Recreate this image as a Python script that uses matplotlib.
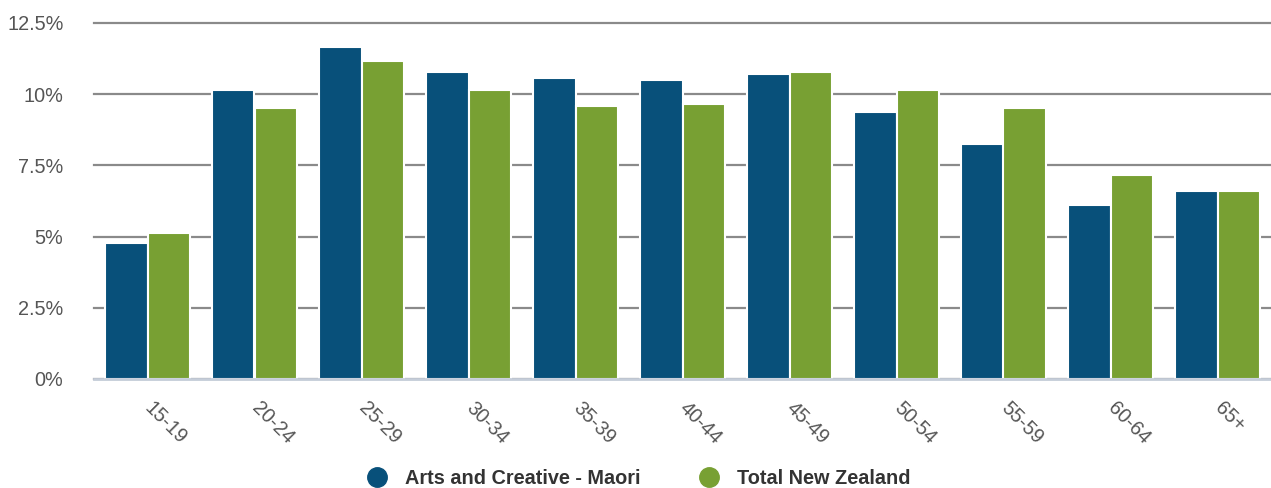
import numpy as np
import matplotlib.pyplot as plt
import matplotlib.transforms as mtrans
from matplotlib.lines import Line2D

plt.rcParams['font.family'] = ['Liberation Sans', 'DejaVu Sans']

age_groups = ["15-19", "20-24", "25-29", "30-34", "35-39", "40-44",
              "45-49", "50-54", "55-59", "60-64", "65+"]
arts_maori = [4.78, 10.15, 11.66, 10.78, 10.57, 10.50, 10.71, 9.38, 8.25, 6.11, 6.60]
total_nz = [5.13, 9.52, 11.17, 10.15, 9.59, 9.66, 10.78, 10.15, 9.52, 7.16, 6.60]
series_names = ["Arts and Creative - Maori", "Total New Zealand"]
y_ticks = [0, 2.5, 5, 7.5, 10, 12.5]
y_labels = ["0%", "2.5%", "5%", "7.5%", "10%", "12.5%"]

BLUE = "#08507a"
GREEN = "#78a033"

fig = plt.figure(figsize=(12.71, 4.88), dpi=100)
ax = fig.add_axes([94/1271, 1-379/488, 1-94/1271, (379-23)/488])

x = np.arange(len(age_groups))
w = 0.4
ax.bar(x - w/2, arts_maori, w, color=BLUE, edgecolor="white", linewidth=1.5, zorder=3)
ax.bar(x + w/2, total_nz, w, color=GREEN, edgecolor="white", linewidth=1.5, zorder=3)

ax.set_xlim(-0.5, len(age_groups) - 0.5)
ax.set_ylim(0, 12.5)
ax.set_yticks(y_ticks)
ax.set_yticklabels(y_labels, fontsize=14.3, color="#555555")
ax.yaxis.grid(True, color="#8a8a8a", linewidth=1.6, zorder=0)
for gl in ax.get_ygridlines():
    gl.set_clip_on(False)
ax.set_axisbelow(True)
ax.tick_params(axis="y", length=0, pad=22)

ax.set_xticks(x)
ax.set_xticklabels(age_groups, fontsize=14.3, color="#555555",
                   rotation=-45, ha="left", va="top", rotation_mode="anchor")
ax.tick_params(axis="x", length=0, pad=14)
shift = mtrans.ScaledTranslation(7/100, 0, fig.dpi_scale_trans)
for lbl in ax.get_xticklabels():
    lbl.set_transform(lbl.get_transform() + shift)

for s in ["top", "right", "left"]:
    ax.spines[s].set_visible(False)
ax.spines["bottom"].set_color("#c5cdd9")
ax.spines["bottom"].set_linewidth(2)
ax.spines["bottom"].set_zorder(4)

handles = [Line2D([], [], marker="o", linestyle="none", markersize=14,
                  markerfacecolor=c, markeredgecolor=c) for c in (BLUE, GREEN)]
leg = fig.legend(handles, series_names, loc="center", bbox_to_anchor=(634/1271, 1-478/488),
                 ncol=2, frameon=False, prop={"size": 14.3, "weight": "bold"},
                 handletextpad=0.4, columnspacing=2.45)
for t in leg.get_texts():
    t.set_color("#333333")

fig.savefig("out.png", dpi=100)
